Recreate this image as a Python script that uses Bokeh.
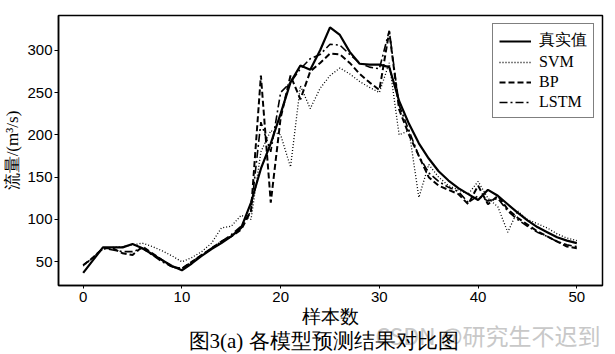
from bokeh.plotting import figure
from bokeh.models import Range1d, Legend, LegendItem, FixedTicker, Title
from bokeh.embed import file_html
from bokeh.resources import INLINE

x = list(range(51))
true_vals = [37, 52, 67, 67, 67, 71, 66, 59, 52, 45, 40, 48, 57, 65, 72, 80, 90, 120, 160, 190,
             225, 262, 282, 277, 300, 327, 318, 298, 284, 283, 283, 280, 240, 213, 190, 172, 157,
             146, 137, 130, 123, 135, 128, 118, 108, 99, 91, 85, 79, 75, 72]
svm_vals = [45, 55, 65, 67, 68, 70, 72, 68, 63, 57, 50, 55, 62, 72, 90, 92, 105, 100, 180, 205,
            200, 162, 258, 231, 255, 270, 279, 272, 263, 256, 250, 285, 200, 205, 126, 165, 150,
            140, 135, 130, 145, 125, 115, 85, 110, 100, 95, 90, 83, 78, 75]
bp_vals = [46, 55, 66, 66, 60, 58, 68, 60, 52, 44, 42, 50, 58, 66, 74, 80, 88, 110, 270, 120,
           220, 270, 242, 275, 285, 296, 295, 285, 272, 262, 253, 322, 230, 200, 175, 150, 140,
           135, 130, 118, 140, 118, 128, 112, 102, 94, 86, 80, 74, 68, 66]
lstm_vals = [46, 55, 66, 64, 62, 62, 66, 58, 50, 44, 42, 50, 58, 66, 74, 82, 92, 110, 215, 180,
             250, 262, 278, 290, 295, 307, 306, 295, 285, 280, 278, 323, 235, 205, 175, 155, 145,
             138, 133, 120, 128, 122, 125, 110, 100, 92, 85, 80, 74, 70, 68]
series_names = ["真实值", "SVM", "BP", "LSTM"]
x_ticks = [0, 10, 20, 30, 40, 50]
y_ticks = [50, 100, 150, 200, 250, 300]

p = figure(width=615, height=354, output_backend="svg", toolbar_location=None,
           x_range=Range1d(-2.5, 52.6), y_range=Range1d(22, 341),
           min_border_left=58, min_border_right=13, min_border_top=15, min_border_bottom=69)
p.background_fill_color = "white"
p.border_fill_color = "white"
p.outline_line_color = "black"
p.outline_line_width = 1.5
p.xgrid.visible = False
p.ygrid.visible = False

for ax in (p.xaxis[0], p.yaxis[0]):
    ax.major_label_text_font = "Liberation Sans"
    ax.major_label_text_font_size = "15px"
    ax.major_label_text_color = "black"
    ax.minor_tick_line_color = None
    ax.axis_line_color = "black"
    ax.axis_line_width = 1.5
    ax.axis_label_text_font = "Liberation Serif"
    ax.axis_label_text_font_style = "normal"
    ax.axis_label_text_color = "black"

p.xaxis.ticker = FixedTicker(ticks=x_ticks)
p.yaxis.ticker = FixedTicker(ticks=y_ticks)
p.xaxis.major_tick_out = 3
p.xaxis.major_tick_in = 0
p.yaxis.major_tick_out = 4
p.yaxis.major_tick_in = 0
p.xaxis.major_label_standoff = 3
p.yaxis.major_label_standoff = 2
p.xaxis.axis_label = "样本数"
p.xaxis.axis_label_text_font_size = "19px"
p.xaxis.axis_label_standoff = 1
p.yaxis.axis_label = "流量/(m³/s)"
p.yaxis.axis_label_text_font_size = "17px"
p.yaxis.axis_label_standoff = 2

r_true = p.line(x, true_vals, line_color="black", line_width=2.2)
r_svm = p.line(x, svm_vals, line_color="black", line_width=1.3, line_dash="1 2")
r_bp = p.line(x, bp_vals, line_color="black", line_width=2.0, line_dash="6 3")
r_lstm = p.line(x, lstm_vals, line_color="black", line_width=1.6, line_dash="8 3 2 3")

legend = Legend(items=[LegendItem(label=series_names[0], renderers=[r_true]),
                       LegendItem(label=series_names[1], renderers=[r_svm]),
                       LegendItem(label=series_names[2], renderers=[r_bp]),
                       LegendItem(label=series_names[3], renderers=[r_lstm])],
                location="top_right")
legend.label_text_font = "Liberation Serif"
legend.label_text_font_size = "16px"
legend.label_text_color = "black"
legend.border_line_color = "black"
legend.border_line_width = 1.5
legend.glyph_width = 32
legend.glyph_height = 16
legend.spacing = 2
legend.padding = 6
legend.margin = 8
legend.label_standoff = 8
p.add_layout(legend)

wm = Title(text="CSDN @研究生不迟到", align="right", text_font="Noto Sans CJK SC",
           text_font_size="23px", text_color="#c8c8c8", text_font_style="normal",
           vertical_align="bottom", standoff=-28, offset=2)
p.add_layout(wm, "below")

cap = Title(text="图3(a) 各模型预测结果对比图", align="left", text_font="Liberation Serif",
            text_font_size="21px", text_color="black", text_font_style="normal",
            vertical_align="top", standoff=-18, offset=130)
p.add_layout(cap, "below")

open("out.html", "w").write(file_html(p, INLINE))
